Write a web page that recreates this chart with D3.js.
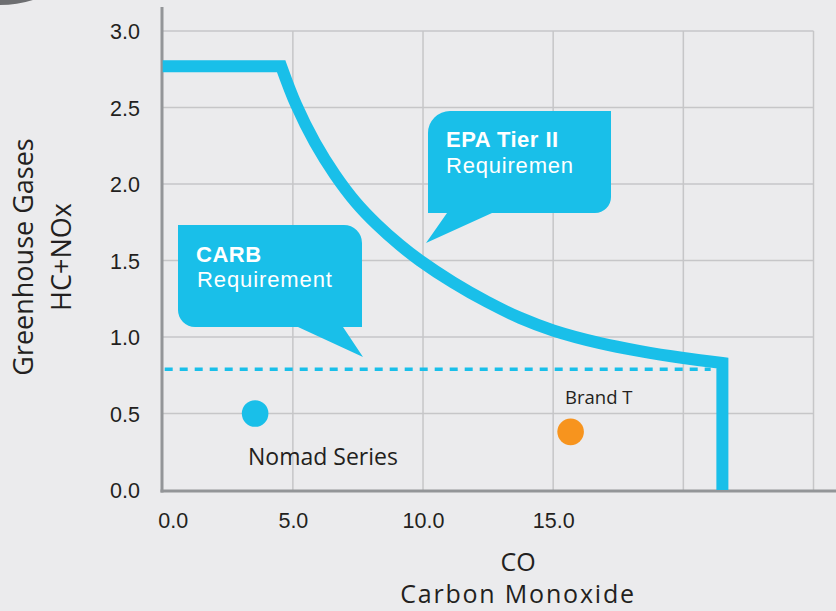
<!DOCTYPE html>
<html>
<head>
<meta charset="utf-8">
<script src="https://cdn.jsdelivr.net/npm/d3@7"></script>
<style>
    body { margin: 0; background: #ebebed; }
    svg { display: block; }
</style>
</head>
<body>
<div id="chart"></div>
<script>
/* *******************************************************
   Data
******************************************************* */
// emission limit curve (CO on x, HC+NOx on y)
let limitCO = [0, 4.55, 5.12, 5.85, 6.62, 7.42, 8.23, 9.12, 9.88, 11.15, 12.46, 13.73, 15.0, 16.8, 18.34, 20.0, 21.5, 21.5];
let limitHC = [2.77, 2.77, 2.52, 2.27, 2.06, 1.88, 1.735, 1.60, 1.50, 1.357, 1.23, 1.125, 1.043, 0.96, 0.908, 0.863, 0.83, 0];

// CARB dashed limit
let carbCO = [0, 21.05];
let carbHC = [0.79, 0.79];

// products
let pointNames = ["Nomad Series", "Brand T"];
let pointCO = [3.55, 15.67];
let pointHC = [0.5, 0.38];
let pointColors = ["#19bfe9", "#f7941e"];

// ticks
let xTicks = [0, 5, 10, 15];
let xGrid = [5, 10, 15, 20, 25];
let yTicks = [0, 0.5, 1, 1.5, 2, 2.5, 3];

/* *******************************************************
   Set Chart Parameters
******************************************************* */
let width = 836;
let height = 611;
let blue = "#19bfe9";

let svg = d3.select("#chart").append("svg")
    .attr("width", width).attr("height", height);

svg.append("rect").attr("width", width).attr("height", height).attr("fill", "#ebebed");

// dark arc peeking in at the top left corner
svg.append("circle")
    .attr("cx", 0).attr("cy", -106).attr("r", 108)
    .attr("fill", "none").attr("stroke", "#6d6e71").attr("stroke-width", 6);

var xScale = d3.scaleLinear().domain([0, 25]).range([162.7, 813.5]);
var yScale = d3.scaleLinear().domain([0, 3]).range([490, 31]);

/* =======================================================
    Grid
======================================================= */
svg.append("g").selectAll("line")
    .data(yTicks.slice(1))
    .enter().append("line")
    .attr("x1", xScale(0)).attr("x2", xScale(25))
    .attr("y1", d => yScale(d)).attr("y2", d => yScale(d))
    .attr("stroke", "#c6c6c8").attr("stroke-width", 1.5);

svg.append("g").selectAll("line")
    .data(xGrid)
    .enter().append("line")
    .attr("x1", d => xScale(d)).attr("x2", d => xScale(d))
    .attr("y1", yScale(3)).attr("y2", yScale(0))
    .attr("stroke", "#c6c6c8").attr("stroke-width", 1.5);

/* =======================================================
    Axes
======================================================= */
var xAxis = d3.axisBottom(xScale).tickValues(xTicks).tickFormat(d3.format(".1f")).tickSize(0).tickPadding(0);
var yAxis = d3.axisLeft(yScale).tickValues(yTicks).tickFormat(d3.format(".1f")).tickSize(0).tickPadding(0);

let xg = svg.append("g").attr("transform", `translate(0, 491)`).call(xAxis);
xg.select(".domain").remove();
xg.selectAll("text")
    .attr("y", 37).attr("dy", 0)
    .attr("dx", d => d == 0 ? 10 : 0)
    .style("font-family", "'Liberation Sans', Arial, sans-serif")
    .style("font-size", "21.5px").attr("fill", "#231f20");

let yg = svg.append("g").attr("transform", `translate(140, 0)`).call(yAxis);
yg.select(".domain").remove();
yg.selectAll("text")
    .attr("x", 0).attr("dy", "0.36em")
    .style("font-family", "'Liberation Sans', Arial, sans-serif")
    .style("font-size", "21.5px").attr("fill", "#231f20");

// axis lines
svg.append("line")
    .attr("x1", 162).attr("x2", 162).attr("y1", 7).attr("y2", 492.5)
    .attr("stroke", "#939598").attr("stroke-width", 3);
svg.append("line")
    .attr("x1", 160.5).attr("x2", 836).attr("y1", 491).attr("y2", 491)
    .attr("stroke", "#939598").attr("stroke-width", 3);

// axis titles
let titleFont = "'Open Sans', 'Noto Sans', sans-serif";
svg.append("text")
    .attr("transform", `translate(33, 257) rotate(-90)`)
    .attr("text-anchor", "middle")
    .style("font-family", titleFont).style("font-size", "27px").attr("fill", "#231f20")
    .text("Greenhouse Gases");
svg.append("text")
    .attr("transform", `translate(71, 257) rotate(-90)`)
    .attr("text-anchor", "middle")
    .style("font-family", titleFont).style("font-size", "27px").attr("fill", "#231f20")
    .text("HC+NOx");
svg.append("text")
    .attr("x", 518).attr("y", 571).attr("text-anchor", "middle")
    .style("font-family", titleFont).style("font-size", "25px").attr("fill", "#231f20")
    .text("CO");
svg.append("text")
    .attr("x", 518).attr("y", 603).attr("text-anchor", "middle")
    .style("font-family", titleFont).style("font-size", "25px")
    .style("letter-spacing", "1.8px").attr("fill", "#231f20")
    .text("Carbon Monoxide");

/* =======================================================
    Limit lines
======================================================= */
// CARB dashed line
svg.append("path")
    .datum(d3.zip(carbCO, carbHC))
    .attr("d", d3.line().x(d => xScale(d[0])).y(d => yScale(d[1])))
    .attr("fill", "none").attr("stroke", blue)
    .attr("stroke-width", 3.5).attr("stroke-dasharray", "8,7")
    .attr("stroke-dashoffset", -2);

// EPA curve: straight start, curved middle, straight drop
let pts = d3.zip(limitCO, limitHC);
let curveLine = d3.line().x(d => xScale(d[0])).y(d => yScale(d[1]))
    .curve(d3.curveCatmullRom.alpha(0.5));
let first = pts[0], last = pts[pts.length - 1];
let epaPath = `M${xScale(first[0])},${yScale(first[1])}`
    + curveLine(pts.slice(1, -1)).replace("M", "L")
    + `L${xScale(last[0])},${yScale(last[1])}`;

svg.append("path")
    .attr("d", epaPath)
    .attr("fill", "none").attr("stroke", blue)
    .attr("stroke-width", 12).attr("stroke-linejoin", "miter");

/* =======================================================
    Product points
======================================================= */
svg.append("g").selectAll("circle")
    .data(pointNames)
    .enter().append("circle")
    .attr("cx", (d, i) => xScale(pointCO[i]))
    .attr("cy", (d, i) => yScale(pointHC[i]))
    .attr("r", 13.3)
    .attr("fill", (d, i) => pointColors[i]);

svg.append("text")
    .attr("x", 248).attr("y", 465)
    .style("font-family", titleFont).style("font-size", "23px").attr("fill", "#231f20")
    .text(pointNames[0]);
svg.append("text")
    .attr("x", 565).attr("y", 404)
    .style("font-family", titleFont).style("font-size", "18.5px").attr("fill", "#231f20")
    .text(pointNames[1]);

/* =======================================================
    Callouts
======================================================= */
// box with corner radii [tl, tr, br, bl] and a tail in the bottom edge
function bubble(x0, y0, x1, y1, r, tailA, tip, tailB) {
    let p = d3.path();
    p.moveTo(x0 + r[0], y0);
    p.lineTo(x1 - r[1], y0);
    if (r[1]) p.arcTo(x1, y0, x1, y0 + r[1], r[1]);
    p.lineTo(x1, y1 - r[2]);
    if (r[2]) p.arcTo(x1, y1, x1 - r[2], y1, r[2]);
    p.lineTo(tailB, y1);
    p.lineTo(tip[0], tip[1]);
    p.lineTo(tailA, y1);
    p.lineTo(x0 + r[3], y1);
    if (r[3]) p.arcTo(x0, y1, x0, y1 - r[3], r[3]);
    p.lineTo(x0, y0 + r[0]);
    if (r[0]) p.arcTo(x0, y0, x0 + r[0], y0, r[0]);
    p.closePath();
    return p.toString();
}

let boxFont = "'Liberation Sans', Arial, sans-serif";

// EPA Tier II
svg.append("path")
    .attr("d", bubble(428, 111, 611, 213, [22, 0, 16, 0], 447, [426, 243], 492))
    .attr("fill", blue);
svg.append("text").attr("x", 446).attr("y", 147)
    .style("font-family", boxFont).style("font-size", "22px").style("font-weight", "bold")
    .style("letter-spacing", "0.5px").attr("fill", "#fff")
    .text("EPA Tier II");
svg.append("text").attr("x", 446).attr("y", 173)
    .style("font-family", boxFont).style("font-size", "22px")
    .style("letter-spacing", "0.8px").attr("fill", "#fff")
    .text("Requiremen");

// CARB
svg.append("path")
    .attr("d", bubble(178, 225, 362, 327, [0, 18, 0, 17], 298, [363, 357], 343))
    .attr("fill", blue);
svg.append("text").attr("x", 196).attr("y", 262)
    .style("font-family", boxFont).style("font-size", "22px").style("font-weight", "bold")
    .style("letter-spacing", "0.5px").attr("fill", "#fff")
    .text("CARB");
svg.append("text").attr("x", 197).attr("y", 287)
    .style("font-family", boxFont).style("font-size", "22px")
    .style("letter-spacing", "0.9px").attr("fill", "#fff")
    .text("Requirement");
</script>
</body>
</html>
